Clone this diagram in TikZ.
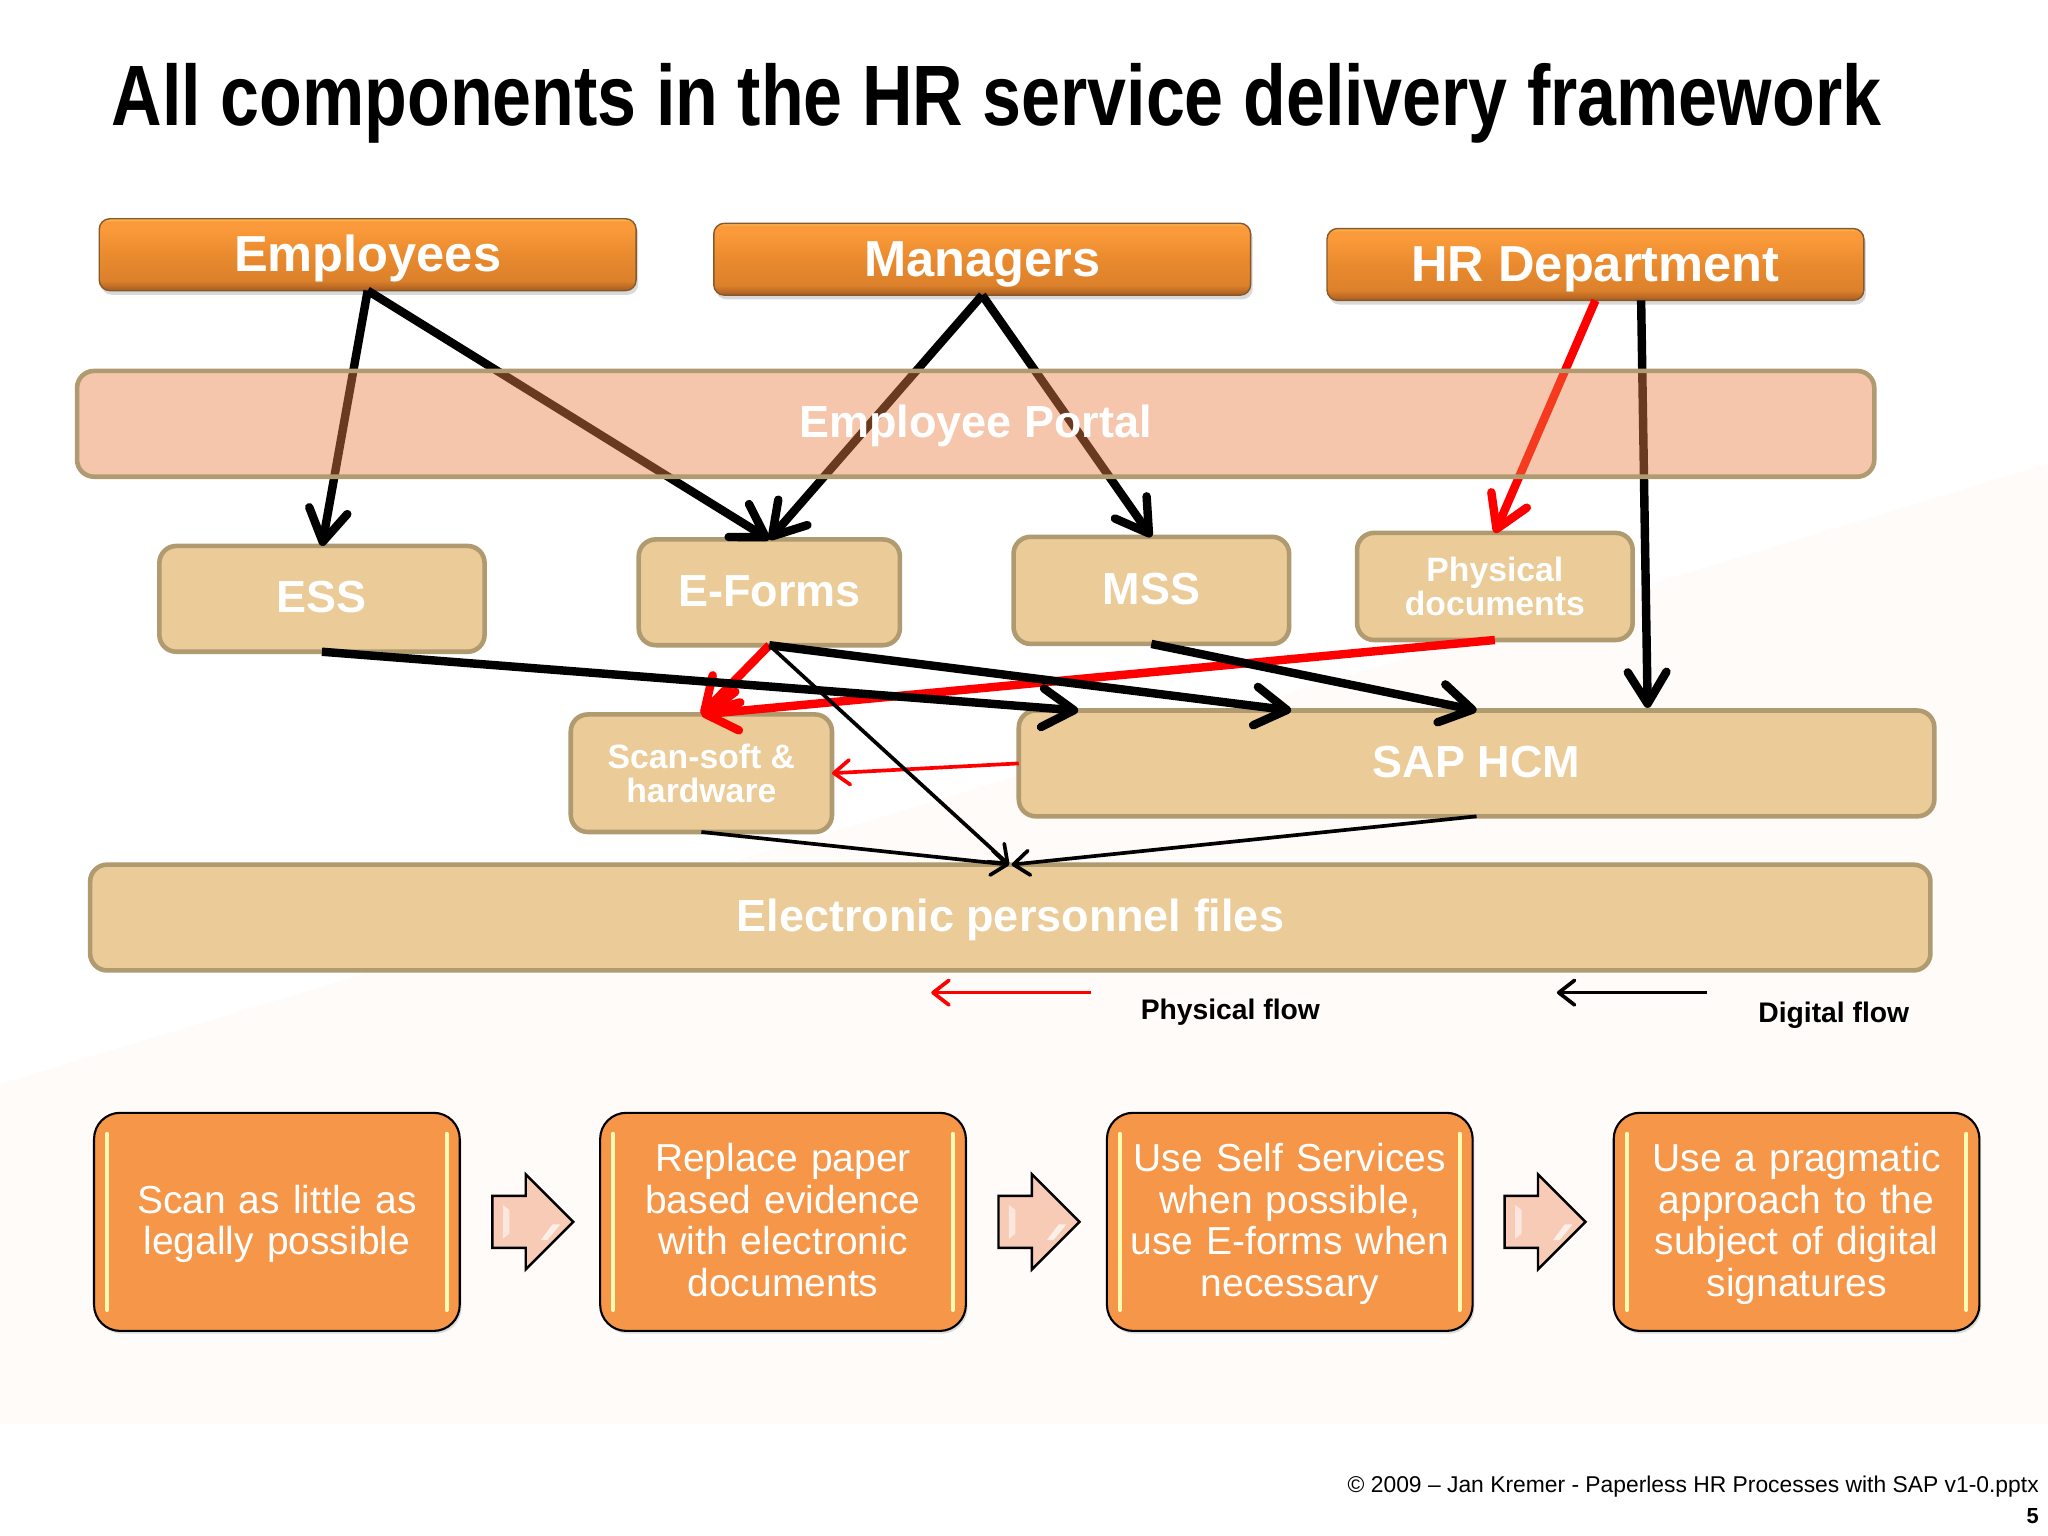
\documentclass[tikz,border=0pt]{standalone}
\usepackage{fontspec}
\usepackage{xcolor}
\setmainfont{Liberation Sans}
\newfontfamily\titlefont[FakeStretch=0.816]{Liberation Sans}
\usetikzlibrary{shapes, arrows.meta, calc, shadows}

\def\u{0.013061cm}
\definecolor{tanfill}{HTML}{EBCB97}
\definecolor{tanline}{HTML}{B09A70}
\definecolor{lessonfill}{HTML}{F69649}
\definecolor{portalfill}{HTML}{E98147}
\definecolor{arrowfill}{HTML}{F7CBB5}
\definecolor{backdrop}{HTML}{FEFBF9}
\definecolor{barlow}{HTML}{A85C20}
\definecolor{barmid}{HTML}{E98A2E}
\definecolor{barhigh}{HTML}{FA9A3A}
\definecolor{bartop}{HTML}{FFBE55}
\pgfdeclareverticalshading{orangebar}{100bp}{color(0bp)=(barlow); color(25bp)=(barlow); color(32bp)=(barmid!80!barlow); color(50bp)=(barmid); color(68bp)=(barhigh); color(73bp)=(barhigh); color(75bp)=(bartop); color(100bp)=(bartop)}

\begin{document}
\begin{tikzpicture}[x=\u, y=-\u, thick]
    \tikzstyle{actor} = [rectangle, rounded corners=8*\u, draw=brown!70!black, line width=0.4pt, shading=orangebar, text=white, font=\fontsize{14.4}{16}\selectfont\bfseries, text height=12.8pt, text depth=3pt, minimum width=411*\u, minimum height=55*\u, inner sep=0pt, outer sep=0pt, drop shadow={shadow xshift=0.6pt, shadow yshift=-1.2pt, opacity=0.3}]
    \tikzstyle{comp} = [rectangle, rounded corners=13*\u, draw=tanline, line width=1.3pt, fill=tanfill, text=white, font=\fontsize{12.8}{14}\selectfont\bfseries, text height=10.5pt, text depth=2.7pt, align=center, inner sep=0pt, outer sep=0pt]
    \tikzstyle{smallcomp} = [font=\fontsize{9.6}{9.8}\selectfont\bfseries, text height=, text depth=]
    \tikzstyle{lesson} = [rectangle, rounded corners=20*\u, draw=black, line width=0.6pt, fill=lessonfill, text=white, font=\fontsize{11.1}{11.9}\selectfont, align=center, text width=250*\u, minimum width=280*\u, minimum height=167*\u, inner sep=0pt, outer sep=0pt, execute at begin node={\rule{0pt}{10.5pt}}, execute at end node={\strut}, drop shadow={shadow xshift=0.5pt, shadow yshift=-0.8pt, opacity=0.25}]
    \tikzstyle{nextarrow} = [single arrow, draw=black, line width=0.7pt, fill=arrowfill, minimum height=62*\u, minimum width=71*\u, single arrow head extend=16.5*\u, inner xsep=0pt, inner ysep=19*\u, outer sep=0pt]
    \tikzstyle{bigflow} = [line width=2.4pt, -{Straight Barb[length=9pt, width=11pt, round]}]
    \tikzstyle{thinflow} = [line width=1.05pt, -{Straight Barb[length=4.5pt, width=7pt, round]}]
    \tikzstyle{legendtext} = [font=\fontsize{8.05}{9}\selectfont\bfseries]

    % page and faint backdrop
    \useasboundingbox (0,0) rectangle (1568,1176);
    \fill[backdrop] (0,830) -- (1568,355) -- (1568,1090) -- (0,1090) -- cycle;

    \node (title) at (763,79) {\titlefont\fontsize{24.4}{28}\selectfont\bfseries All components in the HR service delivery framework};

    \node [actor] (employees) at (281.5,195) {Employees};
    \node [actor] (managers) at (752,198.5) {Managers};
    \node [actor] (hrdept) at (1221.5,202.5) {HR Department};

    \node [comp, minimum width=249*\u, minimum height=81*\u] (ess) at (246.5,458.5) {ESS};
    \node [comp, minimum width=200*\u, minimum height=81*\u] (eforms) at (589,453.5) {E-Forms};
    \node [comp, minimum width=211*\u, minimum height=82*\u] (mss) at (881.5,452) {MSS};
    \node [comp, smallcomp, minimum width=211*\u, minimum height=82*\u] (physical) at (1144.5,449) {Physical\\documents};
    \node [comp, smallcomp, minimum width=200*\u, minimum height=90*\u] (scan) at (537,592) {Scan-soft \&\\hardware};
    \node [comp, minimum width=701*\u, minimum height=81*\u] (sap) at (1130.5,584.5) {SAP HCM};
    \node [comp, minimum width=1409*\u, minimum height=81*\u] (files) at (773.5,702.5) {Electronic personnel files};

    % physical flows
    \draw [bigflow, red] (hrdept.south) -- (physical.north);
    \draw [bigflow, red] (physical.south) -- (scan.north);
    \draw [bigflow, red] (eforms.south) -- (scan.north);
    \draw [thinflow, red] (sap.west) -- (scan.east);

    % digital flows
    \draw [bigflow] (employees.south) -- (ess.north);
    \draw [bigflow] (employees.south) -- (eforms.north);
    \draw [bigflow] (managers.south) -- (eforms.north);
    \draw [bigflow] (managers.south) -- (mss.north);
    \draw [bigflow] ($(hrdept.south)+(35,0)$) -- ($(sap.north)+(131,-2)$);
    \draw [bigflow] (ess.south) -- ($(sap.north)+(-305,0)$);
    \draw [bigflow] (eforms.south) -- ($(sap.north)+(-142,0)$);
    \draw [bigflow] (mss.south) -- (sap.north);
    \draw [thinflow] (eforms.south) -- ($(files.north)+(-1,0)$);
    \draw [thinflow] (scan.south) -- ($(files.north)+(-1,0)$);
    \draw [thinflow] (sap.south) -- ($(files.north)+(1,0)$);

    % portal goes over the arrows, they show through it
    \node [comp, fill=portalfill, fill opacity=0.45, text opacity=1, minimum width=1376*\u, minimum height=81*\u] (portal) at (747,324.5) {Employee Portal};

    % legend
    \coordinate (physfrom) at (835,760);
    \coordinate (physto) at (713,760);
    \coordinate (digifrom) at (1307,760);
    \coordinate (digito) at (1192,760);
    \draw [thinflow, red] (physfrom) -- (physto);
    \draw [thinflow] (digifrom) -- (digito);
    \node [legendtext] (physlabel) at (942,775) {Physical flow};
    \node [legendtext] (digilabel) at (1404,777) {Digital flow};

    % lessons
    \node [lesson] (lessona) at (212,935.5) {Scan as little as\\legally possible};
    \node [lesson] (lessonb) at (599.5,935.5) {Replace paper\\based evidence\\with electronic\\documents};
    \node [lesson] (lessonc) at (987.5,935.5) {Use Self Services\\when possible,\\use E-forms when\\necessary};
    \node [lesson] (lessond) at (1375.5,935.5) {Use a pragmatic\\approach to the\\subject of digital\\signatures};
    \foreach \n in {lessona, lessonb, lessonc, lessond} {
        \draw [yellow!30!white, line width=1.1pt, line cap=round] ($(\n.north west)+(10,16)$) -- ($(\n.south west)+(10,-16)$);
        \draw [yellow!30!white, line width=1.1pt, line cap=round] ($(\n.north east)+(-10,16)$) -- ($(\n.south east)+(-10,-16)$);
    }

    \node [nextarrow] (nexta) at (398,935.5) {};
    \node [nextarrow] (nextb) at (785.5,935.5) {};
    \node [nextarrow] (nextc) at (1173,935.5) {};
    \foreach \n in {nexta, nextb, nextc} {
        \fill [white, opacity=0.55] ($(\n.west)+(8,-13)$) -- ($(\n.west)+(13,-9)$) -- ($(\n.west)+(13,9)$) -- ($(\n.west)+(8,13)$) -- cycle;
        \fill [white, opacity=0.7] ($(\n.west)+(46,2)$) -- ($(\n.west)+(52,2)$) -- ($(\n.west)+(42,14)$) -- ($(\n.west)+(37,14)$) -- cycle;
    }

    % footer
    \node [anchor=east, inner sep=0pt, font=\fontsize{6.5}{8}\selectfont] (source) at (1562,1138) {© 2009 – Jan Kremer - Paperless HR Processes with SAP v1-0.pptx};
    \node [anchor=east, inner sep=0pt, font=\fontsize{6.2}{8}\selectfont\bfseries] (pageno) at (1562,1161) {5};
\end{tikzpicture}
\end{document}
